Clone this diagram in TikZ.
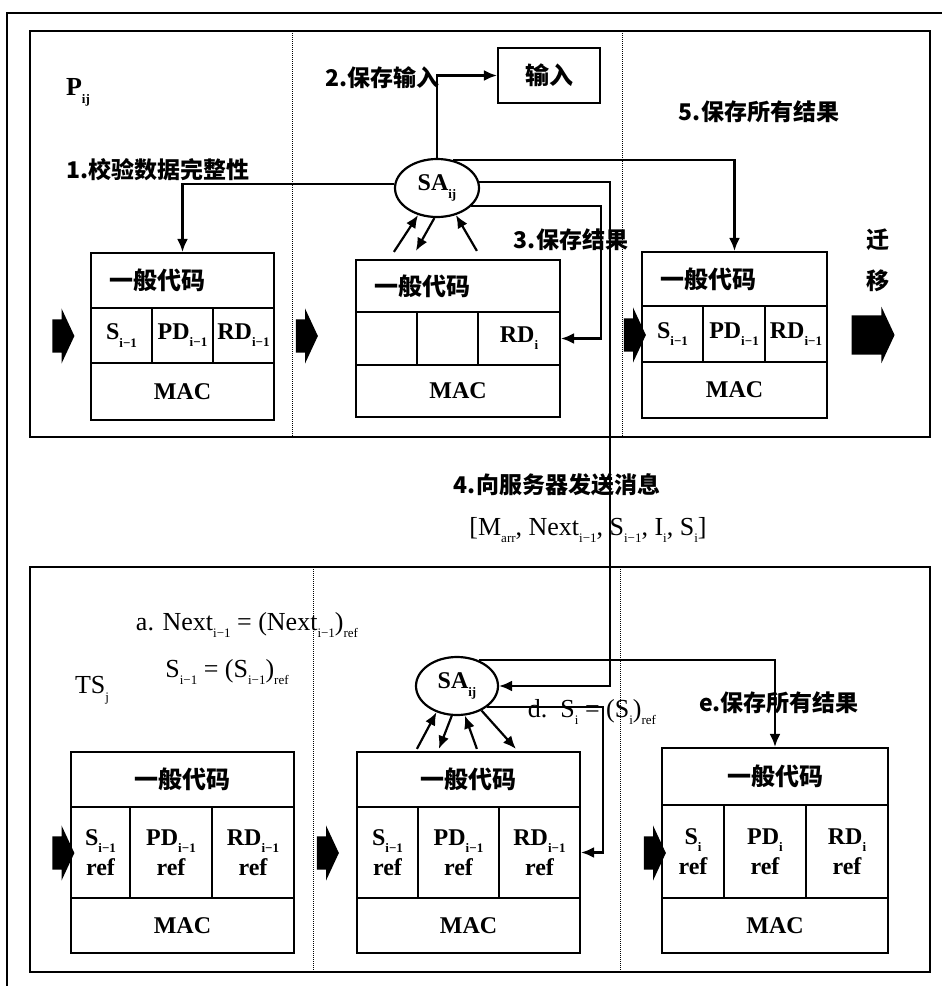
\documentclass[tikz,border=0pt]{standalone}
\usepackage{fontspec}
\setmainfont{Liberation Serif}
\newfontfamily\cjk{Noto Sans CJK SC}
\usetikzlibrary{arrows.meta,shapes.geometric,shapes.arrows}

% one cell of a code box, given by its corners
\newcommand\cell[7][]{%
  \node[cellbox,#1,minimum width={#5-#3},minimum height={#6-#4}]
    (#2) at ({(#3+#5)/2},{(#4+#6)/2}) {#7};}
% small lowered index, as in the scan
\newcommand\lowsub[1]{\raisebox{-0.3em}{\fontsize{13}{13}\selectfont #1}}

\begin{document}
\begin{tikzpicture}[x=1pt,y=-1pt,line width=2.2pt,
  font=\fontsize{24}{30}\selectfont\bfseries,
  cellbox/.style={draw,inner sep=0pt,align=center},
  leftcode/.style={inner xsep=18pt,text width=#1,align=left},
  agent/.style={draw,ellipse,inner sep=0pt,minimum width=84pt,minimum height=58pt},
  flow/.style={-{Latex[length=13pt,width=11pt]},line width=2.2pt},
  block/.style={single arrow,fill=black,draw=none,inner xsep=0pt,inner ysep=15.5pt,
    minimum height=22pt,single arrow head extend=11pt,single arrow tip angle=130},
  sep/.style={densely dotted,line width=1pt},
  note/.style={inner sep=0pt,font=\fontsize{23}{28}\selectfont\bfseries},
  formula/.style={inner sep=0pt,font=\fontsize{26}{30}\selectfont}]
  \useasboundingbox (0,0) rectangle (942,986);

  % frames
  \draw[line width=1.8pt] (7,986) -- (7,13) -- (942,13);
  \draw (30,31) rectangle (930,437);
  \draw (30,567) rectangle (930,972);
  \draw[sep] (292,31) -- (292,437);
  \draw[sep] (622,31) -- (622,437);
  \draw[sep] (313,567) -- (313,972);
  \draw[sep] (620,567) -- (620,972);

  % agent platform P_ij
  \node[inner sep=0pt,font=\fontsize{26}{30}\selectfont\bfseries] (pij) at (78,92) {P\lowsub{ij}};
  \node[block] (inA) at (59.5,336) {};
  \node[block] (inB) at (303,336) {};
  \node[block] (inC) at (631,335) {};
  \node[block,minimum height=43pt,inner ysep=18.5pt,
    single arrow head extend=8.5pt] (move) at (868.5,335) {};

  \cell[leftcode=147pt]{A1}{91}{253}{274}{308}{{\cjk 一般代码}}
  \cell{A2}{91}{308}{152}{363}{S\lowsub{i−1}}
  \cell{A3}{152}{308}{213}{363}{PD\lowsub{i−1}}
  \cell{A4}{213}{308}{274}{363}{RD\lowsub{i−1}}
  \cell{A5}{91}{363}{274}{420}{MAC}

  \cell[leftcode=168pt]{B1}{356}{260}{560}{312}{{\cjk 一般代码}}
  \cell{B2}{356}{312}{417}{365}{}
  \cell{B3}{417}{312}{478}{365}{}
  \cell{B4}{478}{312}{560}{365}{RD\lowsub{i}}
  \cell{B5}{356}{365}{560}{417}{MAC}

  \cell[leftcode=149pt]{C1}{642}{252}{827}{306}{{\cjk 一般代码}}
  \cell{C2}{642}{306}{703}{362}{S\lowsub{i−1}}
  \cell{C3}{703}{306}{765}{362}{PD\lowsub{i−1}}
  \cell{C4}{765}{306}{827}{362}{RD\lowsub{i−1}}
  \cell{C5}{642}{362}{827}{418}{MAC}

  \node[cellbox,minimum width=102pt,minimum height=55pt] (inp) at (549,75.5) {{\cjk 输入}};
  \node[agent] (sat) at (437,188) {SA\lowsub{ij}};

  \node[note] (lab1) at (158,170) {{\cjk 1.校验数据完整性}};
  \node[note,anchor=east] (lab2) at (441,78) {{\cjk 2.保存输入}};
  \node[note] (lab3) at (571,240) {{\cjk 3.保存结果}};
  \node[note] (lab5) at (759,112) {{\cjk 5.保存所有结果}};
  \node[note] (qian) at (878,240) {{\cjk 迁}};
  \node[note] (yi) at (878,281) {{\cjk 移}};

  \draw[flow] (sat.175) -| (A1.north);
  \draw[flow] (sat.north) |- (inp.west);
  \draw[flow] (sat.60) -| (C1.north);
  \draw[flow] (sat.-28) -| ([xshift=40pt]B4.east) -- (B4.east);
  \draw[flow] ([xshift=39pt,yshift=7pt]B1.north west) -- (sat.235);
  \draw[flow] (sat.265) -- ([xshift=61pt,yshift=8pt]B1.north west);
  \draw[flow] ([xshift=122pt,yshift=8pt]B1.north west) -- (sat.305);

  % message to the trusted server
  \node[note] (lab4) at (557,485) {{\cjk 4.向服务器发送消息}};
  \node[formula] (msg) at (588,530)
    {[M\lowsub{arr}, Next\lowsub{i−1}, S\lowsub{i−1}, I\lowsub{i}, S\lowsub{i}]};

  % trusted server TS_j
  \node[formula] (tsj) at (92,690) {TS\lowsub{j}};
  \node[formula] (fa) at (247,625) {a. Next\lowsub{i−1} = (Next\lowsub{i−1})\lowsub{ref}};
  \node[formula] (fb) at (227,672) {S\lowsub{i−1} = (S\lowsub{i−1})\lowsub{ref}};
  \node[block] (inD) at (59.5,853) {};
  \node[block] (inE) at (324,853) {};
  \node[block] (inF) at (651,853) {};

  \cell{D1}{71}{752}{294}{807}{{\cjk 一般代码}}
  \cell{D2}{71}{807}{130}{898}{S\lowsub{i−1}\\ref}
  \cell{D3}{130}{807}{212}{898}{PD\lowsub{i−1}\\ref}
  \cell{D4}{212}{807}{294}{898}{RD\lowsub{i−1}\\ref}
  \cell{D5}{71}{898}{294}{953}{MAC}

  \cell{E1}{357}{752}{580}{807}{{\cjk 一般代码}}
  \cell{E2}{357}{807}{418}{898}{S\lowsub{i−1}\\ref}
  \cell{E3}{418}{807}{499}{898}{PD\lowsub{i−1}\\ref}
  \cell{E4}{499}{807}{580}{898}{RD\lowsub{i−1}\\ref}
  \cell{E5}{357}{898}{580}{953}{MAC}

  \cell{F1}{662}{748}{888}{805}{{\cjk 一般代码}}
  \cell{F2}{662}{805}{724}{898}{S\lowsub{i}\\ref}
  \cell{F3}{724}{805}{806}{898}{PD\lowsub{i}\\ref}
  \cell{F4}{806}{805}{888}{898}{RD\lowsub{i}\\ref}
  \cell{F5}{662}{898}{888}{953}{MAC}

  \node[agent,minimum width=82pt] (sab) at (457,686) {SA\lowsub{ij}};
  \node[formula] (fd) at (592,712) {d.\ \ S\lowsub{i} = (S\lowsub{i})\lowsub{ref}};
  \node[note] (labe) at (779,703) {{\cjk e.保存所有结果}};

  \draw[flow] (sat.8) -| ([xshift=111pt]sab.east) -- (sab.east);
  \draw[flow] (sab.50) -| (F1.north);
  \draw[flow] (sab.-35) -| ([xshift=22pt]E4.east) -- (E4.east);
  \draw[flow] ([xshift=61pt,yshift=2pt]E1.north west) -- (sab.232);
  \draw[flow] (sab.260) -- ([xshift=83pt,yshift=2pt]E1.north west);
  \draw[flow] ([xshift=121pt,yshift=2pt]E1.north west) -- (sab.285);
  \draw[flow] (sab.315) -- ([xshift=160pt,yshift=2pt]E1.north west);
\end{tikzpicture}
\end{document}
